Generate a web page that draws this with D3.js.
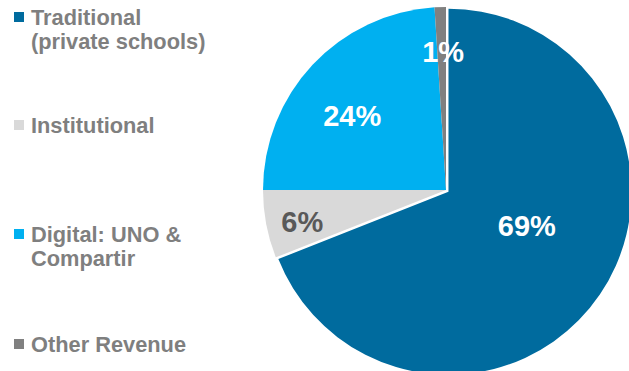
<!DOCTYPE html>
<html>
<head>
<meta charset="utf-8">
<script src="https://cdn.jsdelivr.net/npm/d3@7/dist/d3.min.js"></script>
<style>
  html, body { margin: 0; padding: 0; background: #fff; }
  svg { display: block; font-family: "Liberation Sans", Arial, sans-serif; font-weight: bold; }
</style>
</head>
<body>
<svg id="chart" width="629" height="371"></svg>
<script>
// Revenue mix by segment (%)
const categories = ["Traditional\n(private schools)", "Institutional", "Digital: UNO &\nCompartir", "Other Revenue"];
const shares = [69, 6, 24, 1];
const sliceColors = ["#006b9e", "#d9d9d9", "#00b0f0", "#808080"];
const labelColors = ["#ffffff", "#595959", "#ffffff", "#ffffff"];

const svg = d3.select("#chart");
const cx = 446, cy = 190, R = 183;

const pie = d3.pie().sort(null).value(d => d).startAngle(0).endAngle(2 * Math.PI);
const arcs = pie(shares);
const arc = d3.arc().innerRadius(0).outerRadius(R);

const g = svg.append("g").attr("transform", `translate(${cx},${cy})`);

// the largest slice is pulled slightly out from the centre
const explode = [3, 0, 0, 0];
const mid = a => (a.startAngle + a.endAngle) / 2;

g.selectAll("path.slice")
  .data(arcs)
  .join("path")
  .attr("class", "slice")
  .attr("d", arc)
  .attr("fill", (d, i) => sliceColors[i])
  .attr("transform", (d, i) => {
    const m = mid(d);
    return `translate(${Math.sin(m) * explode[i]},${-Math.cos(m) * explode[i]})`;
  });

// value labels: polar placement (radius, angle offset in degrees) per slice
const labelPolar = [[88, -11], [147, -1.3], [120, -4.6], [139, 0.6]];
g.selectAll("text.val")
  .data(arcs)
  .join("text")
  .attr("class", "val")
  .attr("text-anchor", "middle")
  .attr("font-size", 29)
  .attr("fill", (d, i) => labelColors[i])
  .attr("x", (d, i) => Math.sin(mid(d) + labelPolar[i][1] * Math.PI / 180) * labelPolar[i][0])
  .attr("y", (d, i) => -Math.cos(mid(d) + labelPolar[i][1] * Math.PI / 180) * labelPolar[i][0] + 11)
  .text(d => d3.format("d")(d.data) + "%");

// legend
const legendY = [25, 133, 242, 352];
const legend = svg.append("g");
categories.forEach((c, i) => {
  const row = legend.append("g").attr("transform", `translate(0,${legendY[i]})`);
  row.append("rect").attr("x", 14).attr("y", -13).attr("width", 10).attr("height", 10)
    .attr("fill", sliceColors[i]);
  const t = row.append("text").attr("x", 31).attr("y", 0)
    .attr("font-size", 21.8).attr("fill", "#7f7f7f");
  c.split("\n").forEach((line, j) => {
    t.append("tspan").attr("x", 31).attr("dy", j === 0 ? 0 : 24).text(line);
  });
});
</script>
</body>
</html>
